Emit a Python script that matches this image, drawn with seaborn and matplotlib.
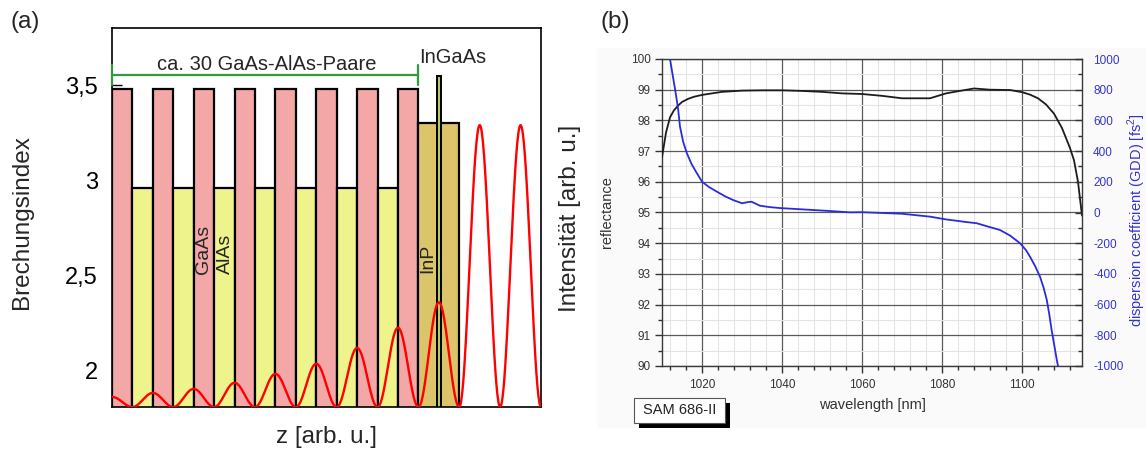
import numpy as np
import pandas as pd
import matplotlib
matplotlib.use("Agg")
import matplotlib.pyplot as plt
from matplotlib.patches import Rectangle
from matplotlib.ticker import MultipleLocator, FixedLocator
import seaborn as sns

# ---------------- data: panel (a) ----------------
layer_material = ["GaAs", "AlAs"] * 7 + ["GaAs", "InP"]
layer_thickness = [1] * 15 + [2]
refr_index = {"GaAs": 3.48, "AlAs": 2.96, "InP": 3.30, "InGaAs": 3.55}
layer_colors = {"GaAs": "#f4a7a7", "AlAs": "#eef38c", "InP": "#dcc46a", "InGaAs": "#b4cc62"}
ingaas_center = 16.0
ingaas_thickness = 0.2
peak_z = [0, 2, 4, 6, 8, 10, 12, 14, 16, 18, 20]
peak_n = [1.863, 1.884, 1.905, 1.937, 1.984, 2.037, 2.12, 2.226, 2.36, 3.29, 3.29]
yticks_a = [2, 2.5, 3, 3.5]
yticklabels_a = ["2", "2,5", "3", "3,5"]

# ---------------- data: panel (b) ----------------
wl_refl = [1010, 1011, 1012, 1013, 1014, 1015, 1016.5, 1018, 1020, 1022, 1025, 1030, 1035,
           1040, 1045, 1050, 1055, 1060, 1065, 1070, 1075, 1077, 1079, 1081, 1084, 1088,
           1092, 1097, 1100, 1102, 1104, 1106, 1108, 1110, 1112, 1113, 1114, 1115]
refl = [96.8, 97.6, 98.1, 98.33, 98.48, 98.6, 98.7, 98.77, 98.83, 98.87, 98.93, 98.97, 98.98,
        98.98, 98.96, 98.93, 98.88, 98.86, 98.8, 98.72, 98.72, 98.72, 98.8, 98.88, 98.95, 99.04,
        99.0, 98.99, 98.92, 98.84, 98.72, 98.52, 98.22, 97.75, 97.1, 96.7, 96.0, 94.9]
wl_gdd = [1012, 1012.7, 1013.3, 1014, 1014.5, 1015.3, 1016.2, 1017.4, 1018.7, 1020, 1021.8,
          1023.7, 1025.8, 1027.8, 1030, 1031.5, 1032.4, 1033.4, 1034.5, 1037, 1039.5, 1044,
          1048, 1053, 1057, 1060, 1065, 1070, 1077, 1081, 1084, 1086, 1088.7, 1091, 1094.5,
          1097, 1099.5, 1101, 1102, 1103.3, 1104.5, 1105.4, 1106.2, 1106.8, 1107.4, 1108.1,
          1108.7, 1109]
gdd = [1000, 890, 798, 680, 559, 460, 387, 315, 257, 201, 165,
       136, 105, 81, 60, 68, 70, 58, 44, 35, 29, 22,
       16, 8, 1, 2, -3, -8, -27, -45, -55, -62, -70, -88, -114,
       -150, -200, -245, -288, -350, -418, -490, -570, -660, -765, -870,
       -960, -1000]

# ---------------- style ----------------
sns.set_theme(style="white")
plt.rcParams["font.family"] = ["Liberation Sans", "DejaVu Sans"]
plt.rcParams["mathtext.fontset"] = "custom"
plt.rcParams["mathtext.rm"] = "Liberation Sans"
plt.rcParams["axes.unicode_minus"] = False

W, H = 1146, 449
fig = plt.figure(figsize=(W / 100, H / 100), dpi=100)


def fr(x0, y0, x1, y1):
    return [x0 / W, 1 - y1 / H, (x1 - x0) / W, (y1 - y0) / H]


# ================= panel (a) =================
axa = fig.add_axes(fr(112, 28, 541, 407))
z_max = 21
n_min, n_max = 1.81, 3.80
axa.set_xlim(0, z_max)
axa.set_ylim(n_min, n_max)

starts = np.concatenate([[0], np.cumsum(layer_thickness)[:-1]])
df_layers = pd.DataFrame({"material": layer_material, "start": starts,
                          "thickness": layer_thickness})
df_layers["n"] = df_layers["material"].map(refr_index)
base = 1.5
axa.bar(df_layers["start"], df_layers["n"] - base, bottom=base, width=df_layers["thickness"],
        align="edge", color=df_layers["material"].map(layer_colors), edgecolor="black",
        linewidth=1.6, zorder=1)
axa.bar([ingaas_center - ingaas_thickness / 2], [refr_index["InGaAs"] - base], bottom=base,
        width=ingaas_thickness, align="edge", color=layer_colors["InGaAs"],
        edgecolor="black", linewidth=1.4, zorder=1.2)

# standing-wave intensity: sin^2 lobes between nodes, peak heights
zs, ns = [], []
for zk, nk in zip(peak_z, peak_n):
    zz = np.linspace(max(zk - 1, 0), min(zk + 1, z_max), 80)
    zs.append(zz)
    ns.append(n_min + (nk - n_min) * np.sin(np.pi * (zz - zk + 1) / 2) ** 2)
df_wave = pd.DataFrame({"z": np.concatenate(zs), "I": np.concatenate(ns)})
sns.lineplot(data=df_wave, x="z", y="I", ax=axa, color="#ff0000", linewidth=1.7,
             sort=False, estimator=None, zorder=3)

axa.set_axisbelow(True)
axa.set_yticks(yticks_a)
axa.set_yticklabels(yticklabels_a)
axa.set_xticks([])
axa.tick_params(axis="y", direction="in", length=7, width=1, pad=10, labelsize=17,
                colors="black", left=True)
for s in axa.spines.values():
    s.set_color("black")
    s.set_linewidth(1.2)
axa.set_xlabel("")
axa.set_ylabel("")

# bracket
green = "#2f9a3f"
yb = 3.553
axa.plot([0, 15], [yb, yb], color=green, lw=1.6, clip_on=False, zorder=4)
axa.plot([0, 0], [3.50, 3.605], color=green, lw=1.6, clip_on=False, zorder=4)
axa.plot([15, 15], [3.50, 3.605], color=green, lw=1.6, clip_on=False, zorder=4)
axa.text(7.56, 3.579, "ca. 30 GaAs-AlAs-Paare", ha="center", va="baseline", fontsize=14.5)
axa.text(15.03, 3.616, "InGaAs", ha="left", va="baseline", fontsize=14.5)
axa.text(4.5, 2.51, "GaAs", rotation=90, ha="center", va="bottom", fontsize=14)
axa.text(5.53, 2.51, "AlAs", rotation=90, ha="center", va="bottom", fontsize=14)
axa.text(15.47, 2.516, "InP", rotation=90, ha="center", va="bottom", fontsize=14)

fig.text(10 / W, 1 - 22 / H, "(a)", ha="left", va="center", fontsize=17.5)
fig.text(22 / W, 1 - 222 / H, "Brechungsindex", rotation=90, ha="center", va="center",
         fontsize=17.5)
fig.text(326 / W, 1 - 437 / H, "z [arb. u.]", ha="center", va="center", fontsize=17.5)
fig.text(570 / W, 1 - 218 / H, "Intensität [arb. u.]", rotation=90, ha="center",
         va="center", fontsize=17.5)

# ================= panel (b) =================
fig.patches.append(Rectangle((597 / W, 1 - 428 / H), (W - 597) / W, (428 - 48) / H,
                             transform=fig.transFigure, facecolor="#fafafa",
                             edgecolor="none", zorder=-5))
axb = fig.add_axes(fr(662, 59, 1082, 366))
axb.set_facecolor("white")
df_r = pd.DataFrame({"wl": wl_refl, "R": refl})
sns.lineplot(data=df_r, x="wl", y="R", ax=axb, color="#1c1c1c", linewidth=1.3,
             estimator=None, zorder=3)
axb.set_xlim(1010, 1115)
axb.set_ylim(90, 100)
axb.xaxis.set_major_locator(MultipleLocator(20))
axb.xaxis.set_minor_locator(FixedLocator(np.arange(1012, 1115, 4)))
axb.yaxis.set_major_locator(MultipleLocator(1))
axb.yaxis.set_minor_locator(MultipleLocator(0.5))
axb.grid(which="major", color="#5a5a5a", linewidth=0.9)
axb.grid(which="minor", color="#e4e4e4", linewidth=0.8)
axb.set_axisbelow(True)
axb.tick_params(axis="both", which="major", direction="out", length=5, width=1,
                labelsize=8.5, labelcolor="#333333", color="#333333", pad=3,
                bottom=True, left=True)
axb.tick_params(axis="both", which="minor", direction="out", length=3, width=1,
                color="#333333", bottom=True, left=True)
axb.tick_params(axis="x", which="major", pad=4)
for s in axb.spines.values():
    s.set_color("#3a3a3a")
    s.set_linewidth(1.0)
axb.set_xlabel("")
axb.set_ylabel("")

axr = axb.twinx()
df_g = pd.DataFrame({"wl": wl_gdd, "GDD": gdd})
sns.lineplot(data=df_g, x="wl", y="GDD", ax=axr, color="#2b2bdc", linewidth=1.3,
             estimator=None, zorder=3)
axr.set_ylim(-1000, 1000)
axr.yaxis.set_major_locator(MultipleLocator(200))
axr.yaxis.set_minor_locator(MultipleLocator(100))
axr.tick_params(axis="y", which="major", direction="in", length=5, width=1,
                labelsize=8.5, labelcolor="#3535d0", color="#333333", pad=8, right=True)
axr.tick_params(axis="y", which="minor", direction="in", length=3, width=1,
                color="#333333", right=True)
axr.set_ylabel("")
axr.grid(False)
for s in axr.spines.values():
    s.set_visible(False)

fig.text(600 / W, 1 - 22 / H, "(b)", ha="left", va="center", fontsize=17.5)
fig.text(607 / W, 1 - 212 / H, "reflectance", rotation=90, ha="center", va="center",
         fontsize=10.5, color="#333333")
fig.text(872 / W, 1 - 405 / H, "wavelength [nm]", ha="center", va="center",
         fontsize=10.5, color="#333333")
fig.text(1137 / W, 1 - 220 / H, "dispersion coefficient (GDD) [fs$^2$]", rotation=90,
         ha="center", va="center", fontsize=10.5, color="#3535d0")

# SAM label box with shadow
fig.patches.append(Rectangle((639 / W, 1 - 428 / H), 91 / W, 25 / H,
                             transform=fig.transFigure, facecolor="black",
                             edgecolor="none", zorder=2))
fig.patches.append(Rectangle((634 / W, 1 - 423 / H), 91 / W, 25 / H,
                             transform=fig.transFigure, facecolor="white",
                             edgecolor="#555555", linewidth=0.8, zorder=3))
fig.text(679.5 / W, 1 - 410.5 / H, "SAM 686-II", ha="center", va="center",
         fontsize=10.5, color="#222222", zorder=4)

fig.savefig("out.png", dpi=100)
